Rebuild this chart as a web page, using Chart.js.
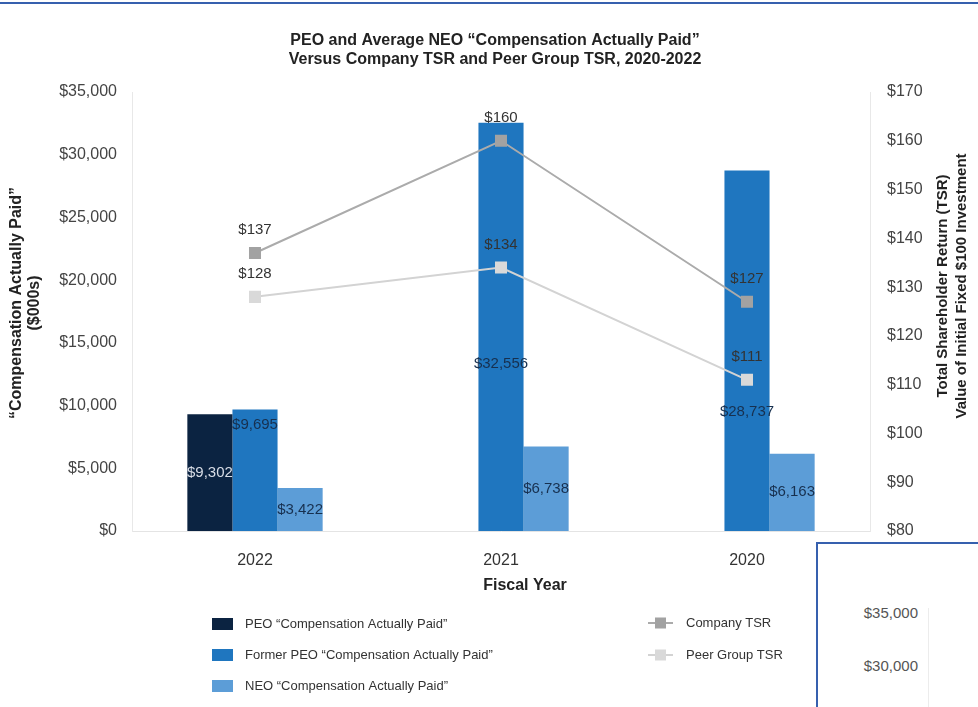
<!DOCTYPE html>
<html>
<head>
<meta charset="utf-8">
<title>Compensation Actually Paid vs TSR</title>
<script src="https://cdn.jsdelivr.net/npm/chart.js@4.4.0/dist/chart.umd.min.js"></script>
<style>
  html, body { margin: 0; padding: 0; background: #fff; }
  #wrap { position: relative; width: 978px; height: 707px; overflow: hidden; }
  #topRule { position: absolute; left: 0; top: 2px; width: 978px; height: 2px; background: #3660ae; }
  #inset { position: absolute; left: 816px; top: 542px; width: 220px; height: 220px;
           border: 2px solid #3660ae; background: #fff; font: 15px "Liberation Sans", Arial, sans-serif; color: #555; }
  #inset .tick { position: absolute; right: 120px; }
  #inset .axis { position: absolute; left: 110px; top: 64px; width: 1px; height: 200px; background: #ececec; }
</style>
</head>
<body>
<div id="wrap">
  <canvas id="capChart" width="978" height="707"></canvas>
  <div id="topRule"></div>
  <div id="inset">
    <div class="axis"></div>
    <div class="tick" style="top:60px">$35,000</div>
    <div class="tick" style="top:113px">$30,000</div>
  </div>
</div>
<script>
// fiscal years, newest first
const years = ['2022', '2021', '2020'];

// compensation actually paid, $000s
const peoCap = [9302, null, null];
const formerPeoCap = [9695, 32556, 28737];
const neoCap = [3422, 6738, 6163];

// value of initial fixed $100 investment
const companyTsr = [137, 160, 127];
const peerTsr = [128, 134, 111];

// axis ranges
const capMin = 0, capMax = 35000, capStep = 5000;
const tsrMin = 80, tsrMax = 170, tsrStep = 10;

const FONT = '"Liberation Sans", Arial, Helvetica, sans-serif';
Chart.defaults.font.family = FONT;

function money(v) {
    return '$' + Number(v).toLocaleString('en-US');
}

// where the Former PEO value label sits, as share of bar height from the base
const formerLabelLift = [0.87, 0.41, 0.33];

// value labels on bars and above TSR markers
const valueLabels = {
    id: 'valueLabels',
    afterDatasetsDraw(chart) {
        const ctx = chart.ctx;
        ctx.save();
        ctx.font = '15px ' + FONT;
        ctx.textAlign = 'center';
        ctx.textBaseline = 'middle';
        chart.data.datasets.forEach((ds, i) => {
            const meta = chart.getDatasetMeta(i);
            meta.data.forEach((el, j) => {
                const v = ds.data[j];
                if (v == null) return;
                if (ds.type === 'line') {
                    ctx.fillStyle = '#333';
                    ctx.fillText('$' + v, el.x, el.y - 23);
                } else {
                    const lift = ds.labelLift ? ds.labelLift[j] : 0.5;
                    ctx.fillStyle = ds.labelColor;
                    ctx.fillText(money(v), el.x, el.base - (el.base - el.y) * lift);
                }
            });
        });
        ctx.restore();
    }
};

// chart title, axis titles and the two-column legend
const frame = {
    id: 'frame',
    afterDraw(chart) {
        const ctx = chart.ctx;
        ctx.save();
        ctx.fillStyle = '#222';
        ctx.textAlign = 'center';
        ctx.textBaseline = 'middle';

        ctx.font = 'bold 16px ' + FONT;
        ctx.fillText('PEO and Average NEO \u201CCompensation Actually Paid\u201D', 495, 41);
        ctx.fillText('Versus Company TSR and Peer Group TSR, 2020-2022', 495, 60);

        ctx.fillText('Fiscal Year', 525, 586);

        ctx.save();
        ctx.translate(17, 303);
        ctx.rotate(-Math.PI / 2);
        ctx.fillText('\u201CCompensation Actually Paid\u201D', 0, 0);
        ctx.fillText('($000s)', 0, 18);
        ctx.restore();

        ctx.font = 'bold 15px ' + FONT;
        ctx.save();
        ctx.translate(943, 286);
        ctx.rotate(-Math.PI / 2);
        ctx.fillText('Total Shareholder Return (TSR)', 0, 0);
        ctx.fillText('Value of Initial Fixed $100 Investment', 0, 19);
        ctx.restore();

        // legend
        ctx.font = '13px ' + FONT;
        ctx.textAlign = 'left';
        const ds = chart.data.datasets;
        const barRows = [624, 655, 686];
        ds.filter(d => d.type !== 'line').forEach((d, k) => {
            const y = barRows[k];
            ctx.fillStyle = d.backgroundColor;
            ctx.fillRect(212, y - 6, 21, 12);
            ctx.fillStyle = '#333';
            ctx.fillText(d.label, 245, y);
        });
        const lineRows = [623, 655];
        ds.filter(d => d.type === 'line').forEach((d, k) => {
            const y = lineRows[k];
            ctx.strokeStyle = d.borderColor;
            ctx.lineWidth = 2;
            ctx.beginPath();
            ctx.moveTo(648, y);
            ctx.lineTo(673, y);
            ctx.stroke();
            ctx.fillStyle = d.pointBackgroundColor;
            ctx.fillRect(655, y - 5.5, 11, 11);
            ctx.fillStyle = '#333';
            ctx.fillText(d.label, 686, y);
        });
        ctx.restore();
    }
};

new Chart(document.getElementById('capChart'), {
    data: {
        labels: years,
        datasets: [
            {
                type: 'line', label: 'Company TSR', data: companyTsr, yAxisID: 'y1', order: 0,
                borderColor: '#ababab', borderWidth: 2,
                pointStyle: 'rect', pointRadius: 8.5, pointHoverRadius: 8.5,
                pointBackgroundColor: '#a2a2a2', pointBorderColor: '#a2a2a2', pointBorderWidth: 0
            },
            {
                type: 'line', label: 'Peer Group TSR', data: peerTsr, yAxisID: 'y1', order: 0,
                borderColor: '#d3d3d3', borderWidth: 2,
                pointStyle: 'rect', pointRadius: 8.5, pointHoverRadius: 8.5,
                pointBackgroundColor: '#d9d9d9', pointBorderColor: '#d9d9d9', pointBorderWidth: 0
            },
            {
                type: 'bar', label: 'PEO \u201CCompensation Actually Paid\u201D', data: peoCap, yAxisID: 'y', order: 1,
                backgroundColor: '#0b2341', labelColor: '#d8dde6'
            },
            {
                type: 'bar', label: 'Former PEO \u201CCompensation Actually Paid\u201D', data: formerPeoCap, yAxisID: 'y', order: 1,
                backgroundColor: '#1f76bf', labelColor: '#17304f', labelLift: formerLabelLift
            },
            {
                type: 'bar', label: 'NEO \u201CCompensation Actually Paid\u201D', data: neoCap, yAxisID: 'y', order: 1,
                backgroundColor: '#5c9dd7', labelColor: '#17304f'
            }
        ]
    },
    options: {
        responsive: false,
        animation: false,
        events: [],
        layout: { padding: { top: 92, left: 0, right: 0, bottom: 0 } },
        datasets: { bar: { categoryPercentage: 0.55, barPercentage: 1.0 } },
        plugins: { legend: { display: false }, title: { display: false }, tooltip: { enabled: false } },
        scales: {
            x: {
                grid: { display: false, drawTicks: false },
                border: { display: true, color: '#e4e4e4', width: 1 },
                ticks: { color: '#333', font: { size: 16 }, padding: 20 },
                afterFit(scale) { scale.height = 707 - 531; }
            },
            y: {
                position: 'left',
                min: capMin, max: capMax,
                grid: { display: false, drawTicks: false },
                border: { display: true, color: '#e8e8e8', width: 1 },
                ticks: { stepSize: capStep, color: '#444', font: { size: 16 }, padding: 15, callback: v => money(v) },
                afterFit(scale) { scale.width = 132; }
            },
            y1: {
                position: 'right',
                min: tsrMin, max: tsrMax,
                grid: { display: false, drawTicks: false },
                border: { display: true, color: '#e8e8e8', width: 1 },
                ticks: { stepSize: tsrStep, color: '#444', font: { size: 16 }, padding: 17, callback: v => '$' + v },
                afterFit(scale) { scale.width = 108; }
            }
        }
    },
    plugins: [valueLabels, frame]
});
</script>
</body>
</html>
